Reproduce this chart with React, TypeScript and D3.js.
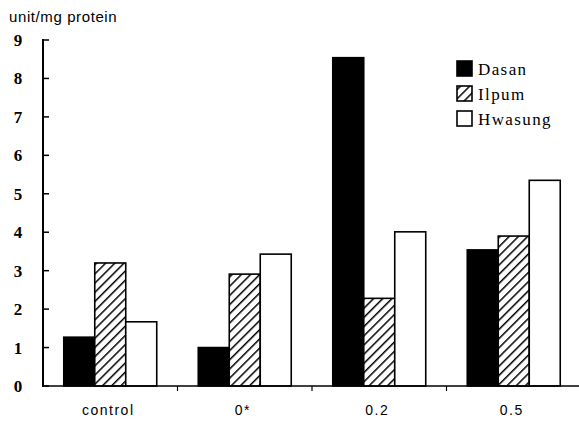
import React, { useRef, useEffect } from 'react';
import * as d3 from 'd3';

const categories = ['control', '0*', '0.2', '0.5'];
const series = ['Dasan', 'Ilpum', 'Hwasung'];
const dasan = [1.27, 1.0, 8.54, 3.54];
const ilpum = [3.2, 2.91, 2.28, 3.9];
const hwasung = [1.67, 3.43, 4.01, 5.35];
const yTicks = [0, 1, 2, 3, 4, 5, 6, 7, 8, 9];

const values: Record<string, number[]> = { Dasan: dasan, Ilpum: ilpum, Hwasung: hwasung };

export default function App() {
  const ref = useRef<SVGSVGElement>(null);

  useEffect(() => {
    const W = 579, H = 426;
    const left = 43, right = 581, top = 40, bottom = 386;
    const svg = d3.select(ref.current);
    svg.selectAll('*').remove();
    svg.attr('width', W).attr('height', H);

    // hatch pattern for Ilpum
    const defs = svg.append('defs');
    const pat = defs.append('pattern')
      .attr('id', 'hatch')
      .attr('patternUnits', 'userSpaceOnUse')
      .attr('width', 6.5)
      .attr('height', 6.5)
      .attr('patternTransform', 'rotate(45)');
    pat.append('rect').attr('width', 6.5).attr('height', 6.5).attr('fill', '#fff');
    pat.append('line')
      .attr('x1', 0).attr('y1', 0).attr('x2', 0).attr('y2', 6.5)
      .attr('stroke', '#000').attr('stroke-width', 3);

    const fills: Record<string, string> = { Dasan: '#000', Ilpum: 'url(#hatch)', Hwasung: '#fff' };

    const y = d3.scaleLinear().domain([0, 9]).range([bottom, top]);
    const x0 = d3.scaleBand().domain(categories).range([left, right]).padding(0);
    const x1 = d3.scaleBand().domain(series).range([0, x0.bandwidth()]).paddingInner(0).paddingOuter(0.67);

    // bars
    categories.forEach((c, i) => {
      series.forEach(s => {
        svg.append('rect')
          .attr('x', (x0(c) as number) + (x1(s) as number))
          .attr('y', y(values[s][i]))
          .attr('width', x1.bandwidth())
          .attr('height', bottom - y(values[s][i]))
          .attr('fill', fills[s])
          .attr('stroke', '#000')
          .attr('stroke-width', 1.6);
      });
    });

    // y axis
    svg.append('line')
      .attr('x1', left).attr('x2', left).attr('y1', top - 1).attr('y2', bottom + 1)
      .attr('stroke', '#000').attr('stroke-width', 2);
    yTicks.forEach(t => {
      svg.append('line')
        .attr('x1', left).attr('x2', left + 6).attr('y1', y(t)).attr('y2', y(t))
        .attr('stroke', '#000').attr('stroke-width', 1.5);
      svg.append('text')
        .attr('x', 18).attr('y', y(t) + 6)
        .attr('text-anchor', 'middle')
        .style('font-family', '"Liberation Serif", serif')
        .style('font-size', '17px')
        .style('font-weight', 'bold')
        .text(t);
    });

    // x axis
    svg.append('line')
      .attr('x1', left).attr('x2', W).attr('y1', bottom).attr('y2', bottom)
      .attr('stroke', '#000').attr('stroke-width', 1.5);
    categories.slice(1).forEach(c => {
      svg.append('line')
        .attr('x1', x0(c) as number).attr('x2', x0(c) as number)
        .attr('y1', bottom).attr('y2', bottom + 5)
        .attr('stroke', '#000').attr('stroke-width', 1.2);
    });
    categories.forEach(c => {
      svg.append('text')
        .attr('x', (x0(c) as number) + x0.bandwidth() / 2 - 2)
        .attr('y', 415)
        .attr('text-anchor', 'middle')
        .style('font-family', '"Liberation Sans", sans-serif')
        .style('font-size', '14px')
        .style('letter-spacing', '1.5px')
        .text(c);
    });

    // y label
    svg.append('text')
      .attr('x', 9).attr('y', 22)
      .style('font-family', '"Liberation Sans", sans-serif')
      .style('font-size', '15px')
      .style('letter-spacing', '0.6px')
      .text('unit/mg protein');

    // legend
    const lg = svg.append('g').attr('transform', 'translate(457, 61)');
    series.forEach((s, i) => {
      lg.append('rect')
        .attr('x', 0).attr('y', i * 25)
        .attr('width', 15).attr('height', 15)
        .attr('fill', fills[s])
        .attr('stroke', '#000').attr('stroke-width', 1.6);
      lg.append('text')
        .attr('x', 21).attr('y', i * 25 + 14)
        .style('font-family', '"Liberation Serif", serif')
        .style('font-size', '17px')
        .style('letter-spacing', '1.4px')
        .text(s);
    });
  }, []);

  return (
    <div>
      <style>{`body{margin:0}`}</style>
      <svg ref={ref} style={{ display: 'block' }}></svg>
    </div>
  );
}
